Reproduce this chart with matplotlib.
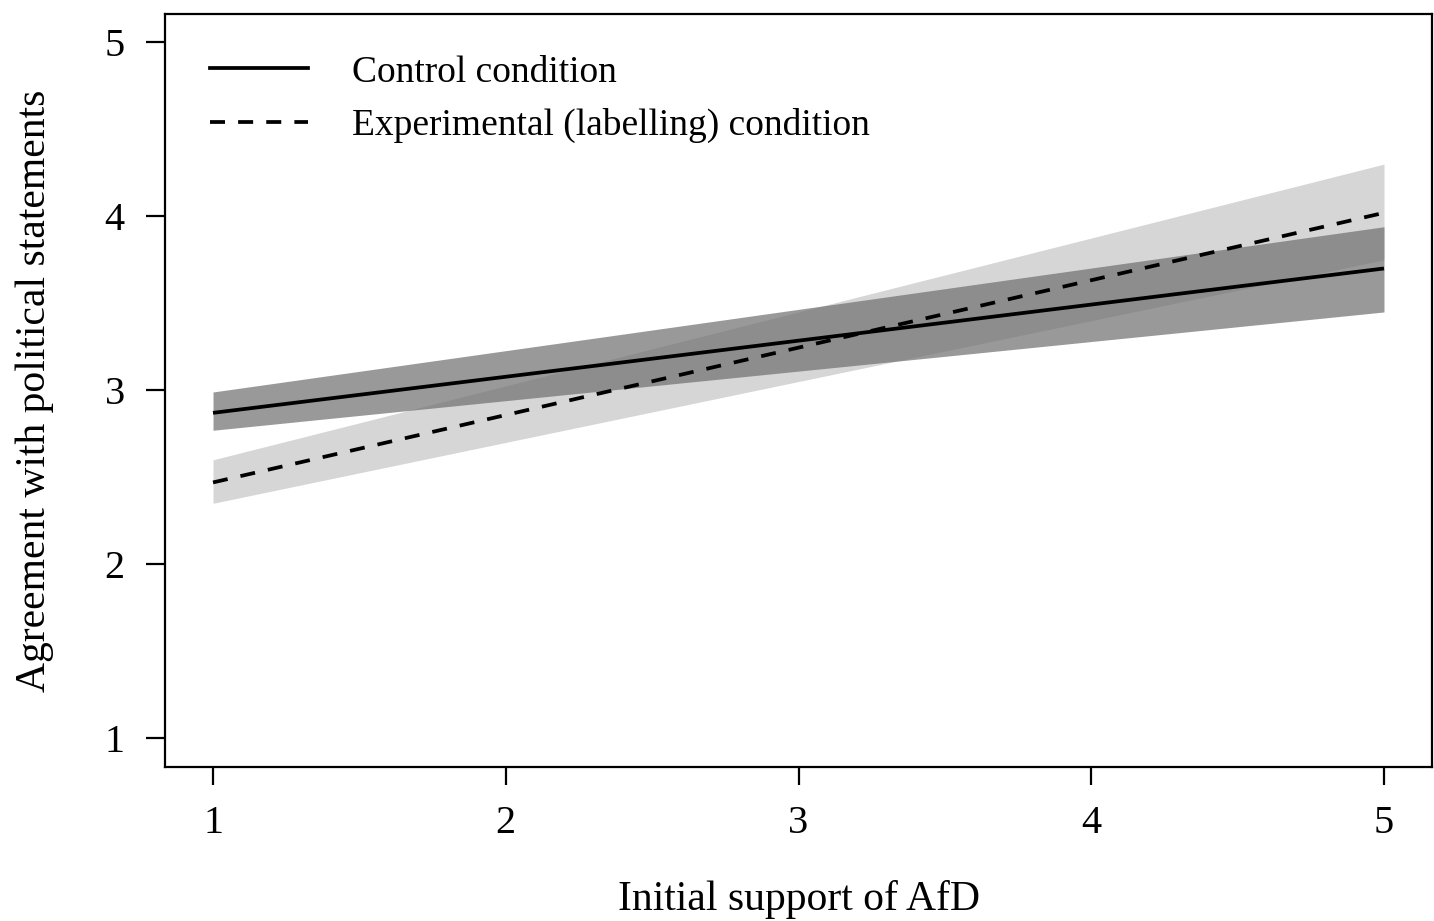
import numpy as np
import matplotlib.pyplot as plt
from matplotlib.lines import Line2D

### data (predicted values and CI at x = 1 and x = 5)
support = [1, 5]

control_fit = [2.87, 3.70]
control_lo = [2.77, 3.45]
control_hi = [2.99, 3.94]

label_fit = [2.47, 4.02]
label_lo = [2.35, 3.75]
label_hi = [2.60, 4.30]

x_ticks = [1, 2, 3, 4, 5]
y_ticks = [1, 2, 3, 4, 5]

plt.rcParams['font.family'] = ['Liberation Serif', 'DejaVu Serif']
plt.rcParams['font.size'] = 29

fig = plt.figure(figsize=(14.34, 9.21), dpi=100)
ax = fig.add_axes([165 / 1434, 1 - 767 / 921, 1267 / 1434, 753 / 921])

### confidence bands: light for labelling, dark (semi transparent) for control
ax.fill_between(support, label_lo, label_hi, color='#d6d6d6', lw=0)
ax.fill_between(support, control_lo, control_hi, color='#6e6e6e', alpha=0.7, lw=0)

### fitted lines
ax.plot(support, control_fit, color='black', lw=2.7, solid_capstyle='butt')
ax.plot(support, label_fit, color='black', lw=2.7, dashes=(4, 3.5))

ax.set_xlim(0.836, 5.164)
ax.set_ylim(0.834, 5.163)
ax.set_xticks(x_ticks)
ax.set_yticks(y_ticks)

for s in ax.spines.values():
    s.set_linewidth(1.6)
ax.tick_params(direction='out', width=1.6, labelsize=29)
ax.tick_params(axis='x', length=13, pad=14)
ax.tick_params(axis='y', length=14, pad=15)

ax.set_xlabel('Initial support of AfD', fontsize=30, labelpad=28)
ax.set_ylabel('Agreement with political statements', fontsize=30, labelpad=36)

handles = [Line2D([], [], color='black', lw=2.7),
           Line2D([], [], color='black', lw=2.7, dashes=(4, 3.5))]
ax.legend(handles, ['Control condition', 'Experimental (labelling) condition'],
          loc='upper left', bbox_to_anchor=(45 / 1267, 1 - 41 / 753),
          frameon=False, borderpad=0, borderaxespad=0, fontsize=27,
          handlelength=2.6, handletextpad=1.2, labelspacing=0.5)

fig.savefig('out.png', dpi=100)
